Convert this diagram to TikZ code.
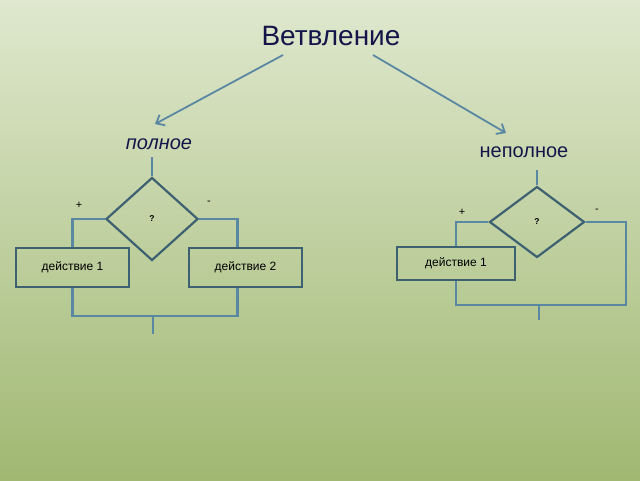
\documentclass[tikz,border=0pt]{standalone}
\usepackage{fontspec}
\setmainfont{Liberation Sans}
\usetikzlibrary{shapes.geometric,arrows.meta}
\definecolor{bgtop}{HTML}{DFE8CE}
\definecolor{bgbot}{HTML}{A0B872}
\definecolor{myline}{HTML}{5A88A2}
\definecolor{myframe}{HTML}{3E6172}
\definecolor{mytext}{HTML}{14164A}
\tikzset{
    ln/.style={myline, line width=2.2pt},
    arr/.style={myline, line width=1.8pt, -{Straight Barb[length=7pt,width=12pt]}},
    cond/.style={diamond, draw=myframe, line width=2.2pt, inner sep=0pt, font=\fontsize{8.5}{9}\selectfont\bfseries},
    act/.style={rectangle, draw=myframe, line width=2.2pt, font=\fontsize{12}{13}\selectfont},
    sign/.style={font=\fontsize{11}{12}\selectfont},
    head/.style={text=mytext}
}
\begin{document}
\begin{tikzpicture}[x=1pt,y=-1pt]
\shade[top color=bgtop, bottom color=bgbot] (0,0) rectangle (640,480);
\useasboundingbox (0,0) rectangle (640,480);

\node[head,font=\fontsize{28}{32}\selectfont] at (331,36) (title) {Ветвление};
\node[head,font=\fontsize{20}{24}\selectfont\itshape] at (159,144) (full) {полное};
\node[head,font=\fontsize{20}{24}\selectfont] at (524,152) (part) {неполное};
\coordinate (a1) at (283,55);
\coordinate (a2) at (155,124);
\coordinate (b1) at (373,55);
\coordinate (b2) at (506,133);
\draw [arr] (a1) -- (a2);
\draw [arr] (b1) -- (b2);

% full branching
\coordinate (l0) at (152,157);
\node[cond, minimum width=92pt, minimum height=83pt] at (152,219) (lq) {?};
\node[act, minimum width=113pt, minimum height=39pt] at (72.5,267.5) (l1) {действие 1};
\node[act, minimum width=113pt, minimum height=39pt] at (245.5,267.5) (l2) {действие 2};
\node[sign] at (79,205) (lp) {+};
\node[sign] at (209,203) (lm) {-};
\coordinate (lj) at (153,316);
\coordinate (le) at (153,334);
\draw [ln] (l0) -- (lq.north);
\draw [ln] (lq.west) -| (l1.north);
\draw [ln] (lq.east) -| ([xshift=-8pt]l2.north);
\draw [ln] (l1.south) |- (lj) -| ([xshift=-8pt]l2.south);
\draw [ln] (lj) -- (le);

% part branching
\coordinate (r0) at (537,170);
\node[cond, minimum width=95pt, minimum height=71pt] at (537,222) (rq) {?};
\node[act, minimum width=118pt, minimum height=33pt] at (456,263.5) (r1) {действие 1};
\node[sign] at (462,212) (rp) {+};
\node[sign] at (597,211) (rm) {-};
\coordinate (rc) at (626,305);
\coordinate (rj) at (539,305);
\coordinate (re) at (539,320);
\draw [ln] (r0) -- (rq.north);
\draw [ln] (rq.west) -| (r1.north);
\draw [ln] (rq.east) -| (rc) -- (r1.south |- rc) -- (r1.south);
\draw [ln] (rj) -- (re);
\end{tikzpicture}
\end{document}
